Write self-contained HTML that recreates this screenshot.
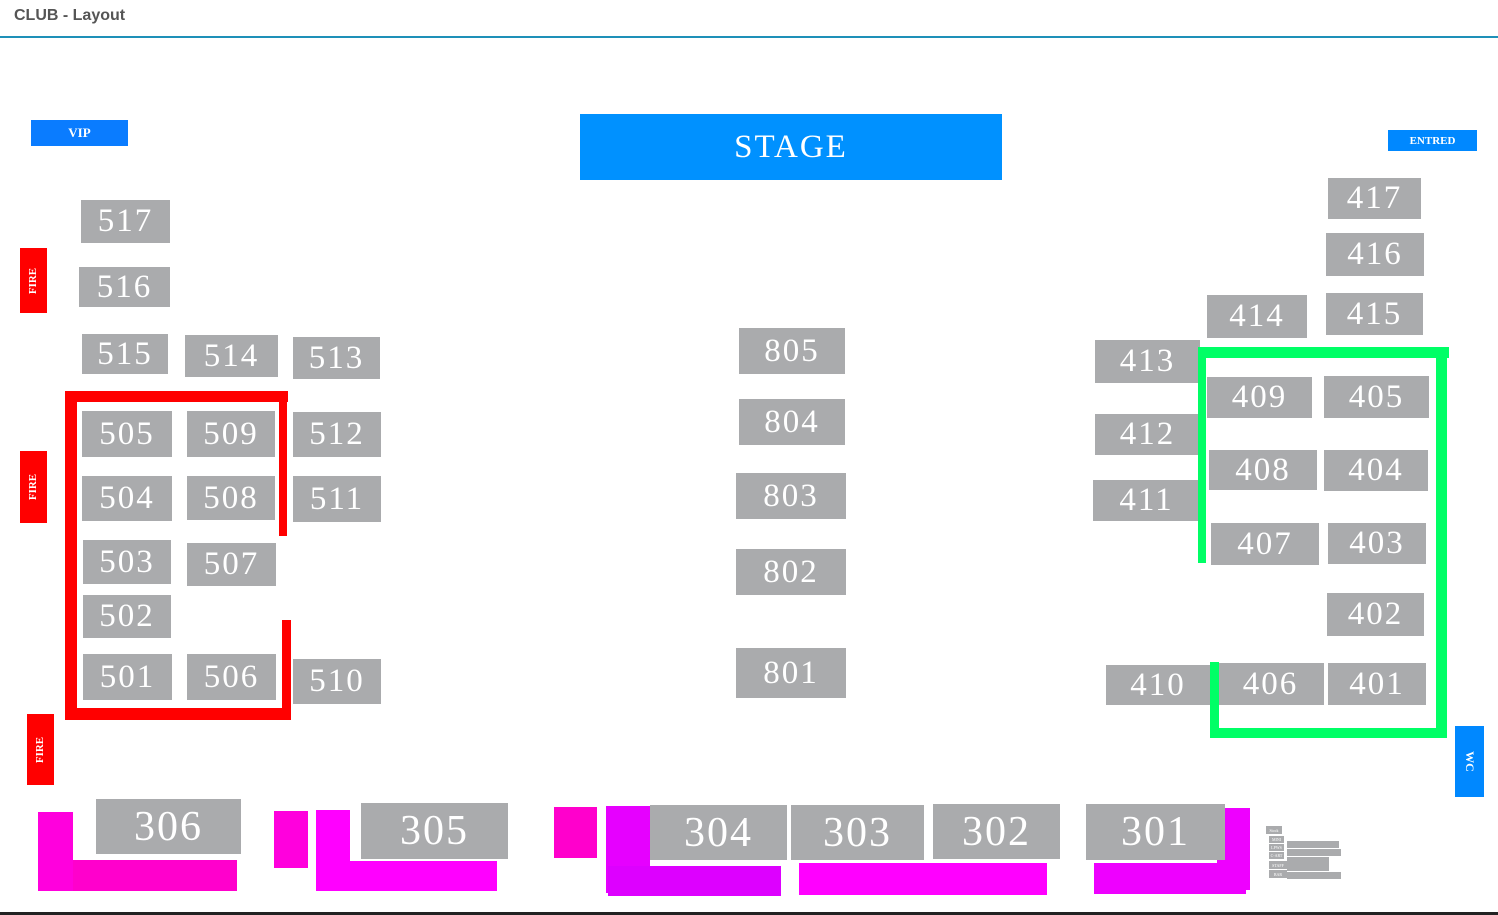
<!DOCTYPE html>
<html><head><meta charset="utf-8"><style>
body{margin:0;width:1498px;height:915px;background:#fff;position:relative;overflow:hidden;font-family:"Liberation Serif",serif}
div{position:absolute;box-sizing:border-box}
.b{background:#aaabad;color:#fff;display:flex;align-items:center;justify-content:center;font-size:33px;letter-spacing:2px}
.L{font-size:42px}
.r{background:#ff0000}.g{background:#00ff66}
.f{background:#ff0000;color:#fff;font-size:11px;font-weight:bold;display:flex;align-items:center;justify-content:center}
.f span{transform:rotate(-90deg);white-space:nowrap}
.bl{background:#0a7cff;color:#fff;font-weight:bold;display:flex;align-items:center;justify-content:center}
.s{background:#aaabad;color:#fff;font-size:4px;display:flex;align-items:center;justify-content:center}
</style></head><body>
<div style="left:14px;top:7px;font-family:'Liberation Sans',sans-serif;font-size:16px;color:#555;font-weight:bold">CLUB - Layout</div>
<div style="left:0;top:36px;width:1498px;height:2px;background:#1e90b8"></div>
<div style="left:0;top:912px;width:1498px;height:3px;background:#222"></div>

<div class="bl" style="left:31px;top:120px;width:97px;height:26px;font-size:13px">VIP</div>
<div class="bl" style="left:580px;top:114px;width:422px;height:66px;font-size:33px;font-weight:normal;background:#0091ff;letter-spacing:2px">STAGE</div>
<div class="bl" style="left:1388px;top:130px;width:89px;height:21px;font-size:11px;background:#0088ff">ENTRED</div>

<div class="f" style="left:20px;top:248px;width:27px;height:65px"><span>FIRE</span></div>
<div class="f" style="left:20px;top:451px;width:27px;height:72px"><span>FIRE</span></div>
<div class="f" style="left:27px;top:714px;width:27px;height:71px"><span>FIRE</span></div>
<div class="bl" style="left:1455px;top:726px;width:29px;height:71px;background:#0088ff;font-size:12px"><span style="transform:rotate(90deg)">WC</span></div>

<div class="b" style="left:81px;top:200px;width:89px;height:43px">517</div>
<div class="b" style="left:79px;top:267px;width:91px;height:40px">516</div>
<div class="b" style="left:82px;top:334px;width:86px;height:40px">515</div>
<div class="b" style="left:185px;top:335px;width:93px;height:42px">514</div>
<div class="b" style="left:293px;top:337px;width:87px;height:42px">513</div>
<div class="b" style="left:82px;top:411px;width:90px;height:46px">505</div>
<div class="b" style="left:187px;top:411px;width:88px;height:46px">509</div>
<div class="b" style="left:293px;top:412px;width:88px;height:45px">512</div>
<div class="b" style="left:82px;top:476px;width:90px;height:45px">504</div>
<div class="b" style="left:187px;top:476px;width:88px;height:44px">508</div>
<div class="b" style="left:293px;top:476px;width:88px;height:46px">511</div>
<div class="b" style="left:83px;top:540px;width:88px;height:44px">503</div>
<div class="b" style="left:187px;top:543px;width:89px;height:43px">507</div>
<div class="b" style="left:83px;top:595px;width:88px;height:43px">502</div>
<div class="b" style="left:83px;top:654px;width:89px;height:46px">501</div>
<div class="b" style="left:187px;top:654px;width:89px;height:46px">506</div>
<div class="b" style="left:293px;top:659px;width:88px;height:45px">510</div>
<div class="r" style="left:65px;top:391px;width:223px;height:11px"></div>
<div class="r" style="left:65px;top:391px;width:12px;height:329px"></div>
<div class="r" style="left:65px;top:708px;width:226px;height:12px"></div>
<div class="r" style="left:279px;top:391px;width:8px;height:145px"></div>
<div class="r" style="left:282px;top:620px;width:9px;height:100px"></div>

<div class="b" style="left:739px;top:328px;width:106px;height:46px">805</div>
<div class="b" style="left:739px;top:399px;width:106px;height:46px">804</div>
<div class="b" style="left:736px;top:473px;width:110px;height:46px">803</div>
<div class="b" style="left:736px;top:549px;width:110px;height:46px">802</div>
<div class="b" style="left:736px;top:648px;width:110px;height:50px">801</div>

<div class="b" style="left:1328px;top:178px;width:93px;height:41px">417</div>
<div class="b" style="left:1326px;top:233px;width:98px;height:43px">416</div>
<div class="b" style="left:1207px;top:295px;width:100px;height:43px">414</div>
<div class="b" style="left:1326px;top:293px;width:97px;height:42px">415</div>
<div class="b" style="left:1095px;top:340px;width:105px;height:43px">413</div>
<div class="b" style="left:1207px;top:377px;width:105px;height:41px">409</div>
<div class="b" style="left:1324px;top:376px;width:105px;height:42px">405</div>
<div class="b" style="left:1095px;top:414px;width:105px;height:41px">412</div>
<div class="b" style="left:1209px;top:450px;width:108px;height:40px">408</div>
<div class="b" style="left:1324px;top:450px;width:104px;height:41px">404</div>
<div class="b" style="left:1093px;top:480px;width:107px;height:41px">411</div>
<div class="b" style="left:1211px;top:523px;width:108px;height:42px">407</div>
<div class="b" style="left:1328px;top:523px;width:98px;height:41px">403</div>
<div class="b" style="left:1327px;top:593px;width:97px;height:43px">402</div>
<div class="b" style="left:1106px;top:665px;width:104px;height:40px">410</div>
<div class="b" style="left:1217px;top:663px;width:107px;height:42px">406</div>
<div class="b" style="left:1328px;top:663px;width:98px;height:42px">401</div>
<div class="g" style="left:1200px;top:347px;width:249px;height:11px"></div>
<div class="g" style="left:1436px;top:347px;width:11px;height:391px"></div>
<div class="g" style="left:1210px;top:728px;width:237px;height:10px"></div>
<div class="g" style="left:1198px;top:347px;width:8px;height:216px"></div>
<div class="g" style="left:1210px;top:662px;width:9px;height:76px"></div>

<div style="left:38px;top:812px;width:35px;height:79px;background:#ff00dd"></div>
<div style="left:73px;top:860px;width:164px;height:31px;background:#ff00cc"></div>
<div class="b L" style="left:96px;top:799px;width:145px;height:55px">306</div>
<div style="left:274px;top:811px;width:34px;height:57px;background:#ff00dd"></div>
<div style="left:316px;top:810px;width:34px;height:80px;background:#ff00ff"></div>
<div style="left:316px;top:861px;width:181px;height:30px;background:#ff00ff"></div>
<div class="b L" style="left:361px;top:803px;width:147px;height:56px">305</div>
<div style="left:554px;top:807px;width:43px;height:51px;background:#ff00cc"></div>
<div style="left:606px;top:806px;width:44px;height:87px;background:#e600ff"></div>
<div style="left:608px;top:866px;width:173px;height:30px;background:#dd00ff"></div>
<div class="b L" style="left:650px;top:805px;width:137px;height:55px">304</div>
<div class="b L" style="left:791px;top:805px;width:133px;height:55px">303</div>
<div class="b L" style="left:933px;top:804px;width:127px;height:55px">302</div>
<div style="left:799px;top:863px;width:248px;height:32px;background:#ff00ff"></div>
<div style="left:1217px;top:808px;width:33px;height:82px;background:#ee00ff"></div>
<div style="left:1094px;top:863px;width:152px;height:31px;background:#ee00ff"></div>
<div class="b L" style="left:1086px;top:804px;width:139px;height:56px">301</div>

<div class="s" style="left:1266px;top:826px;width:16px;height:8px">Stock</div>
<div class="s" style="left:1269px;top:836px;width:15px;height:7px">MINI</div>
<div class="s" style="left:1269px;top:844px;width:15px;height:7px">LPWS</div>
<div class="s" style="left:1269px;top:852px;width:15px;height:7px">C-ART</div>
<div class="s" style="left:1269px;top:861px;width:18px;height:8px">STAFF</div>
<div class="s" style="left:1269px;top:870px;width:18px;height:8px">BAR</div>
<div class="s" style="left:1287px;top:841px;width:52px;height:7px"></div>
<div class="s" style="left:1287px;top:849px;width:54px;height:7px"></div>
<div class="s" style="left:1287px;top:857px;width:42px;height:7px"></div>
<div class="s" style="left:1287px;top:864px;width:42px;height:7px"></div>
<div class="s" style="left:1287px;top:872px;width:54px;height:7px"></div>
</body></html>
